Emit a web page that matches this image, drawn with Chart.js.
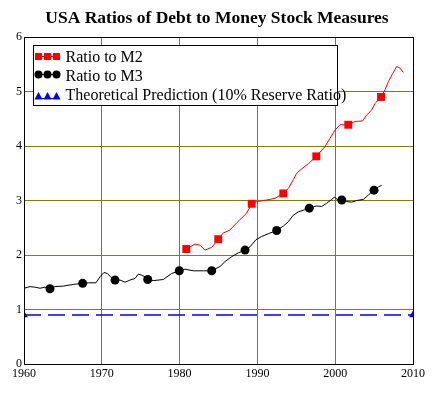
<!DOCTYPE html>
<html>
<head>
<meta charset="utf-8">
<script src="https://cdn.jsdelivr.net/npm/chart.js@4/dist/chart.umd.min.js"></script>
<style>
  html, body { margin: 0; padding: 0; background: #ffffff; }
  #wrap { width: 434px; height: 395px; position: relative; }
</style>
</head>
<body>
<div id="wrap"><canvas id="c" width="434" height="395"></canvas></div>
<script>
const chartTitle = 'USA Ratios of Debt to Money Stock Measures';
const legendLabels = ['Ratio to M2', 'Ratio to M3', 'Theoretical Prediction (10% Reserve Ratio)'];
const xTickLabels = [1960, 1970, 1980, 1990, 2000, 2010];
const yTickLabels = [0, 1, 2, 3, 4, 5, 6];

const m2Years = [1980.86, 1981.98, 1982.62, 1983.26, 1984.13, 1984.97, 1985.58, 1986.48, 1987.34, 1988.62,
  1989.27, 1989.95, 1991.2, 1992.26, 1993.33, 1993.97, 1994.61, 1995.05, 1995.6, 1996.6,
  1997.57, 1998.69, 1999.33, 1999.97, 2000.62, 2001.68, 2002.54, 2003.53, 2004.05, 2004.69,
  2005.12, 2005.89, 2006.4, 2006.83, 2007.39, 2007.9, 2008.33, 2008.75];
const m2Values = [2.11, 2.20, 2.18, 2.09, 2.14, 2.29, 2.40, 2.46, 2.59, 2.77,
  2.94, 2.98, 3.01, 3.04, 3.13, 3.22, 3.38, 3.50, 3.57, 3.68,
  3.81, 3.99, 4.14, 4.29, 4.39, 4.39, 4.45, 4.46, 4.57, 4.66,
  4.78, 4.90, 5.03, 5.18, 5.33, 5.46, 5.43, 5.35];
const m2MarkerYears = [1980.86, 1984.97, 1989.27, 1993.33, 1997.57, 2001.68, 2005.89];
const m2MarkerValues = [2.11, 2.29, 2.94, 3.13, 3.81, 4.39, 4.90];

const m3Years = [1960, 1960.77, 1961.4, 1962.06, 1962.7, 1963.34, 1963.98, 1965.05, 1966.34, 1967.54,
  1968.27, 1969.25, 1969.77, 1970.28, 1970.71, 1971.14, 1971.7, 1972.34, 1972.98, 1973.62,
  1974.27, 1974.7, 1975.12, 1975.55, 1975.9, 1976.62, 1977.9, 1978.98, 1979.96, 1980.7,
  1981.76, 1983.05, 1984.13, 1985.2, 1985.84, 1986.7, 1987.55, 1988.41, 1989.05, 1989.82,
  1990.55, 1991.4, 1992.48, 1993.33, 1993.97, 1994.61, 1995.26, 1996.67, 1997.62, 1998.26,
  1998.9, 1999.55, 1999.89, 2000.27, 2000.84, 2001.48, 2002.12, 2002.77, 2003.62, 2004.26,
  2004.99, 2005.54, 2005.98];
const m3Values = [1.39, 1.42, 1.41, 1.39, 1.41, 1.38, 1.42, 1.43, 1.46, 1.48,
  1.49, 1.49, 1.60, 1.68, 1.66, 1.60, 1.54, 1.54, 1.50, 1.54,
  1.57, 1.65, 1.63, 1.60, 1.55, 1.53, 1.55, 1.66, 1.71, 1.74,
  1.71, 1.71, 1.71, 1.79, 1.88, 1.97, 2.04, 2.09, 2.15, 2.28,
  2.34, 2.39, 2.45, 2.53, 2.61, 2.73, 2.79, 2.86, 2.90, 2.89,
  2.95, 3.02, 3.06, 3.02, 3.01, 2.98, 2.97, 3.00, 3.02, 3.10,
  3.19, 3.25, 3.28];
const m3MarkerYears = [1963.34, 1967.54, 1971.7, 1975.9, 1979.96, 1984.13, 1988.41, 1992.48, 1996.67, 2000.84, 2004.99];
const m3MarkerValues = [1.38, 1.48, 1.54, 1.55, 1.71, 1.71, 2.09, 2.45, 2.86, 3.01, 3.19];

const predictionYears = [1960, 2010];
const predictionValues = [0.9, 0.9];

const RED = '#ff0000', BLACK = '#000000', BLUE = '#0000ff', OLIVE = '#808000';
const SERIF = "'Liberation Serif', 'Times New Roman', serif";

function pts(xs, ys) { return xs.map((x, i) => ({ x: x, y: ys[i] })); }

const framePlugin = {
  id: 'frame',
  afterDraw(chart) {
    const a = chart.chartArea, ctx = chart.ctx;
    ctx.save();
    ctx.strokeStyle = BLACK;
    ctx.lineWidth = 1;
    ctx.strokeRect(Math.round(a.left) + 0.5, Math.round(a.top) + 0.5,
      Math.round(a.right - a.left), Math.round(a.bottom - a.top));
    ctx.restore();
  }
};

const boxLegendPlugin = {
  id: 'boxLegend',
  afterDraw(chart) {
    const ctx = chart.ctx;
    ctx.save();
    ctx.fillStyle = '#ffffff';
    ctx.fillRect(33.5, 45.5, 304, 60);
    ctx.strokeStyle = BLACK;
    ctx.lineWidth = 1;
    ctx.strokeRect(33.5, 45.5, 304, 60);
    const xs = [38.5, 47.5, 56.5];
    let y = 56;
    ctx.strokeStyle = RED; ctx.beginPath(); ctx.moveTo(35, y + 0.5); ctx.lineTo(60, y + 0.5); ctx.stroke();
    ctx.fillStyle = RED;
    xs.forEach(x => ctx.fillRect(x - 3.5, y - 3, 7, 7));
    y = 74.5;
    ctx.strokeStyle = BLACK; ctx.beginPath(); ctx.moveTo(35, y); ctx.lineTo(60, y); ctx.stroke();
    ctx.fillStyle = BLACK;
    xs.forEach(x => { ctx.beginPath(); ctx.arc(x, y, 4, 0, Math.PI * 2); ctx.fill(); });
    y = 96;
    ctx.strokeStyle = BLUE; ctx.beginPath(); ctx.moveTo(35, y + 2.5); ctx.lineTo(60, y + 2.5); ctx.stroke();
    ctx.fillStyle = BLUE;
    xs.forEach(x => { ctx.beginPath(); ctx.moveTo(x, y - 4); ctx.lineTo(x + 4, y + 3.5); ctx.lineTo(x - 4, y + 3.5); ctx.closePath(); ctx.fill(); });
    ctx.fillStyle = BLACK;
    ctx.font = '16px ' + SERIF;
    ctx.textBaseline = 'alphabetic';
    ctx.textAlign = 'left';
    const baselines = [62, 81, 100];
    legendLabels.forEach((t, i) => ctx.fillText(t, 65.5, baselines[i]));
    ctx.restore();
  }
};

new Chart(document.getElementById('c'), {
  type: 'line',
  data: {
    datasets: [
      {
        label: legendLabels[2],
        data: pts(predictionYears, predictionValues),
        borderColor: BLUE, backgroundColor: BLUE,
        borderWidth: 1.5, borderDash: [17, 7],
        pointStyle: 'triangle', pointRadius: 4.5, pointBorderWidth: 0,
        pointBackgroundColor: BLUE,
        clip: 0, order: 5
      },
      {
        label: legendLabels[1],
        data: pts(m3Years, m3Values),
        borderColor: BLACK, borderWidth: 1, pointRadius: 0,
        tension: 0, clip: 0, order: 4
      },
      {
        label: legendLabels[1] + ' markers',
        data: pts(m3MarkerYears, m3MarkerValues),
        showLine: false, pointStyle: 'circle', pointRadius: 4.5,
        pointBackgroundColor: BLACK, pointBorderColor: BLACK, pointBorderWidth: 0,
        clip: 0, order: 3
      },
      {
        label: legendLabels[0],
        data: pts(m2Years, m2Values),
        borderColor: RED, borderWidth: 1, pointRadius: 0,
        tension: 0, clip: 0, order: 2
      },
      {
        label: legendLabels[0] + ' markers',
        data: pts(m2MarkerYears, m2MarkerValues),
        showLine: false, pointStyle: 'rect', pointRadius: 5.6,
        pointBackgroundColor: RED, pointBorderColor: RED, pointBorderWidth: 0,
        clip: 0, order: 1
      }
    ]
  },
  options: {
    responsive: false,
    animation: false,
    events: [],
    layout: { padding: { left: 0, right: 0, top: 0, bottom: 0 } },
    plugins: {
      legend: { display: false },
      tooltip: { enabled: false },
      title: {
        display: true,
        text: chartTitle,
        color: BLACK,
        font: { family: SERIF, size: 17.5, weight: 'bold', lineHeight: 1.2 },
        padding: { top: 8, bottom: 8 }
      }
    },
    scales: {
      x: {
        type: 'linear',
        min: xTickLabels[0], max: xTickLabels[xTickLabels.length - 1],
        afterBuildTicks(scale) { scale.ticks = xTickLabels.map(v => ({ value: v })); },
        afterFit(scale) { scale.height = 31; },
        ticks: {
          color: BLACK, font: { family: SERIF, size: 12 }, padding: 3,
          maxRotation: 0, autoSkip: false,
          callback: (v) => String(v)
        },
        grid: {
          color: (c) => (c.tick && (c.tick.value === xTickLabels[0] || c.tick.value === xTickLabels[xTickLabels.length - 1])) ? 'rgba(0,0,0,0)' : OLIVE,
          lineWidth: 1, drawTicks: false
        },
        border: { display: true, color: BLACK, width: 1 }
      },
      y: {
        type: 'linear',
        min: yTickLabels[0], max: yTickLabels[yTickLabels.length - 1],
        afterBuildTicks(scale) { scale.ticks = yTickLabels.map(v => ({ value: v })); },
        afterFit(scale) { scale.width = 24; },
        ticks: {
          color: BLACK, font: { family: SERIF, size: 12 }, padding: 2,
          autoSkip: false,
          callback: (v) => String(v)
        },
        grid: {
          color: (c) => (c.tick && (c.tick.value === yTickLabels[0] || c.tick.value === yTickLabels[yTickLabels.length - 1])) ? 'rgba(0,0,0,0)' : OLIVE,
          lineWidth: 1, drawTicks: false
        },
        border: { display: true, color: BLACK, width: 1 }
      },
      yRight: {
        type: 'linear',
        position: 'right',
        min: yTickLabels[0], max: yTickLabels[yTickLabels.length - 1],
        display: true,
        afterFit(scale) { scale.width = 21; },
        ticks: { display: false },
        grid: { display: false, drawOnChartArea: false, drawTicks: false },
        border: { display: false }
      }
    }
  },
  plugins: [framePlugin, boxLegendPlugin]
});
</script>
</body>
</html>
